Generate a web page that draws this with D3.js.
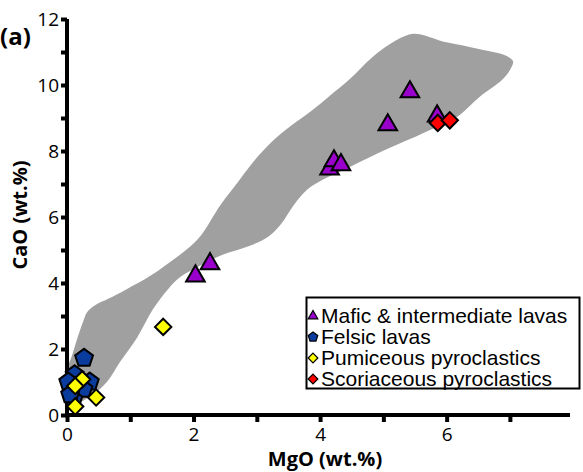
<!DOCTYPE html>
<html>
<head>
<meta charset="utf-8">
<script src="https://cdn.jsdelivr.net/npm/d3@7"></script>
<style>
  html, body { margin: 0; padding: 0; background: #fff; }
  svg { display: block; }
</style>
</head>
<body>
<svg id="chart" width="583" height="472"></svg>
<script>
// MgO vs CaO (wt.%) — field of regional compositions plus sample groups

// Outline of the grey compositional field, [MgO, CaO]
const fieldOutline = [
  [0.00, 1.35], [0.08, 1.80], [0.16, 2.30], [0.25, 2.80], [0.32, 3.12],
  [0.45, 3.33], [0.65, 3.52], [0.95, 3.82], [1.31, 4.21],
  [1.63, 4.64], [1.90, 5.03], [2.12, 5.45], [2.42, 6.35], [2.69, 7.03],
  [2.94, 7.66], [3.25, 8.30], [3.55, 8.78], [3.85, 9.20], [4.15, 9.67],
  [4.47, 10.18], [4.83, 10.85], [5.21, 11.36], [5.47, 11.55], [5.69, 11.48],
  [5.94, 11.32], [6.26, 11.20], [6.68, 11.02], [6.95, 10.88], [7.05, 10.72],
  [7.02, 10.52], [6.89, 10.18], [6.52, 9.64], [6.16, 9.03], [5.73, 8.63],
  [5.42, 8.36], [4.99, 8.00], [4.42, 7.47], [4.04, 7.13], [3.79, 6.82],
  [3.58, 6.35], [3.38, 5.78], [3.18, 5.40], [2.88, 5.12], [2.45, 4.85],
  [2.10, 4.52], [1.79, 4.18], [1.60, 3.82], [1.36, 3.21], [1.11, 2.35],
  [0.84, 1.61], [0.63, 1.00], [0.36, 0.55], [0.13, 0.33], [0.00, 0.33]
];

// Sample groups, [MgO, CaO]
const maficLavas = [
  [2.03, 4.21], [2.26, 4.58], [4.15, 7.45], [4.22, 7.70], [4.33, 7.58],
  [5.07, 8.79], [5.42, 9.79], [5.85, 9.06]
];
const felsicLavas = [
  [0.27, 1.72], [0.12, 1.22], [0.02, 1.00], [0.36, 1.00], [0.26, 0.78],
  [0.10, 0.47], [0.05, 0.62]
];
const pumiceousPyroclastics = [
  [0.24, 1.08], [0.13, 0.88], [0.46, 0.53], [0.13, 0.26], [1.52, 2.67]
];
const scoriaceousPyroclastics = [
  [5.86, 8.85], [6.05, 8.93]
];

const seriesNames = [
  "Mafic & intermediate lavas",
  "Felsic lavas",
  "Pumiceous pyroclastics",
  "Scoriaceous pyroclastics"
];

const xTicks = [0, 1, 2, 3, 4, 5, 6, 7];
const xTickLabels = ["0", "", "2", "", "4", "", "6", ""];
const yTicks = [0, 1, 2, 3, 4, 5, 6, 7, 8, 9, 10, 11, 12];
const yTickLabels = ["0", "", "2", "", "4", "", "6", "", "8", "", "10", "", "12"];

const svg = d3.select("#chart");

const x = d3.scaleLinear().domain([0, 7.95]).range([67, 570]);
const y = d3.scaleLinear().domain([0, 12]).range([415, 19]);

// pentagon symbol for d3.symbol
const symbolPentagon = {
  draw(ctx, size) {
    const r = Math.sqrt(size / 2.378);
    for (let i = 0; i < 5; i++) {
      const a = -Math.PI / 2 + i * 2 * Math.PI / 5;
      const px = r * Math.cos(a), py = r * Math.sin(a);
      if (i === 0) ctx.moveTo(px, py); else ctx.lineTo(px, py);
    }
    ctx.closePath();
  }
};

// grey field
svg.append("path")
  .datum(fieldOutline)
  .attr("d", d3.line()
    .x(d => x(d[0])).y(d => y(d[1]))
    .curve(d3.curveCatmullRomClosed.alpha(0.5)))
  .attr("fill", "#a0a0a0")
  .attr("stroke", "none");

// axes
const fontTick = "'Open Sans', sans-serif";

const xAxis = d3.axisBottom(x)
  .tickValues(xTicks)
  .tickFormat((d, i) => xTickLabels[i])
  .tickSizeInner(7).tickSizeOuter(0).tickPadding(6);
const gx = svg.append("g").attr("transform", `translate(0,${y(0)})`).call(xAxis);

const yAxis = d3.axisLeft(y)
  .tickValues(yTicks)
  .tickFormat((d, i) => yTickLabels[i])
  .tickSizeInner(6).tickSizeOuter(0).tickPadding(2);
const gy = svg.append("g").attr("transform", `translate(${x(0)},0)`).call(yAxis);

[gx, gy].forEach(g => {
  g.select(".domain").remove();
  g.selectAll(".tick line").style("stroke", "#000").style("stroke-width", "4px");
  g.selectAll(".tick text")
    .style("fill", "#000")
    .style("font-family", fontTick)
    .style("font-size", "19px");
});

// axis lines
svg.append("rect")
  .attr("x", x(0) - 2).attr("y", y(0) - 2)
  .attr("width", x(7.95) - x(0) + 2).attr("height", 4)
  .style("fill", "#000");
svg.append("rect")
  .attr("x", x(0) - 2).attr("y", y(12))
  .attr("width", 4).attr("height", y(0) - y(12) + 2)
  .style("fill", "#000");

// axis titles
svg.append("text")
  .attr("x", 325).attr("y", 466)
  .attr("text-anchor", "middle")
  .style("font-family", fontTick).style("font-weight", "bold").style("font-size", "20px")
  .style("fill", "#000")
  .text("MgO (wt.%)");

svg.append("text")
  .attr("transform", "translate(27,215) rotate(-90)")
  .attr("text-anchor", "middle")
  .style("font-family", fontTick).style("font-weight", "bold").style("font-size", "20px")
  .style("fill", "#000")
  .text("CaO (wt.%)");

svg.append("text")
  .attr("x", 0).attr("y", 45)
  .style("font-family", fontTick).style("font-weight", "bold").style("font-size", "24px")
  .style("fill", "#000")
  .text("(a)");

// sample markers
const groups = [
  { data: felsicLavas, type: symbolPentagon, size: 210, fill: "#0a3c9e" },
  { data: pumiceousPyroclastics, type: d3.symbolDiamond2, size: 170, fill: "#ffff00" },
  { data: maficLavas, type: d3.symbolTriangle, size: 150, fill: "#9900cc" },
  { data: scoriaceousPyroclastics, type: d3.symbolDiamond2, size: 170, fill: "#ff0000" }
];

groups.forEach(g => {
  svg.append("g").selectAll("path")
    .data(g.data)
    .join("path")
    .attr("transform", d => `translate(${x(d[0])},${y(d[1])})`)
    .attr("d", d3.symbol().type(g.type).size(g.size))
    .style("fill", g.fill)
    .style("stroke", "#000")
    .style("stroke-width", "2px")
    .style("stroke-linejoin", "miter");
});

// legend
const legend = svg.append("g");
legend.append("rect")
  .attr("x", 306.5).attr("y", 297.5).attr("width", 273).attr("height", 91)
  .style("fill", "#fff").style("stroke", "#000").style("stroke-width", "2px");

const legendItems = [
  { name: seriesNames[0], type: d3.symbolTriangle, size: 40, fill: "#9900cc" },
  { name: seriesNames[1], type: symbolPentagon, size: 60, fill: "#0a3c9e" },
  { name: seriesNames[2], type: d3.symbolDiamond2, size: 60, fill: "#ffff00" },
  { name: seriesNames[3], type: d3.symbolDiamond2, size: 60, fill: "#ff0000" }
];
const ly = d3.scalePoint().domain(d3.range(legendItems.length)).range([315, 378]);

const li = legend.selectAll("g.item")
  .data(legendItems)
  .join("g")
  .attr("class", "item")
  .attr("transform", (d, i) => `translate(0,${ly(i)})`);

li.append("path")
  .attr("transform", "translate(313,1)")
  .attr("d", d => d3.symbol().type(d.type).size(d.size)())
  .style("fill", d => d.fill)
  .style("stroke", "#000")
  .style("stroke-width", "1.2px");

li.append("text")
  .attr("x", 321).attr("y", 0)
  .attr("dy", "0.36em")
  .style("font-family", "'Liberation Sans', Arial, sans-serif")
  .style("font-size", "21px")
  .style("fill", "#000")
  .text(d => d.name);
</script>
</body>
</html>
